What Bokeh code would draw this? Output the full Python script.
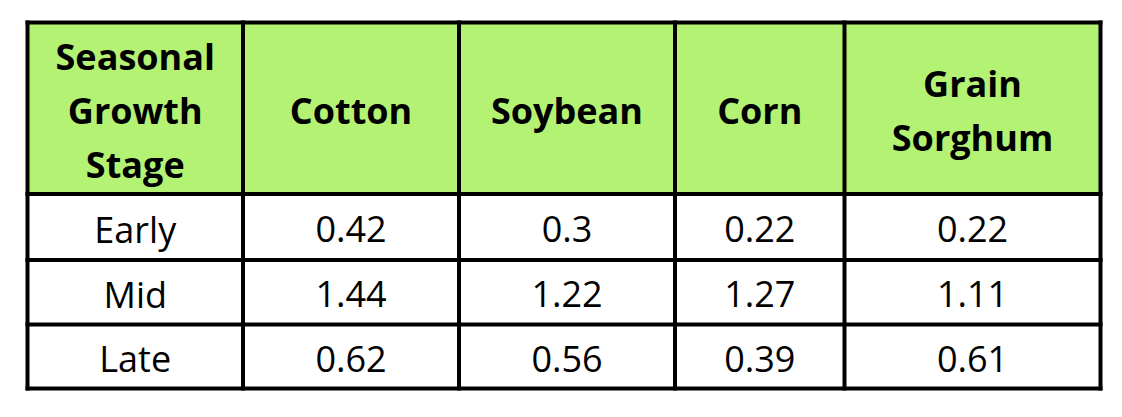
from bokeh.plotting import figure
from bokeh.models import Range1d
from bokeh.core.properties import value
from bokeh.embed import file_html
from bokeh.resources import INLINE

# ---- data ----
header = ["Seasonal\nGrowth\nStage", "Cotton", "Soybean", "Corn", "Grain\nSorghum"]
stages = ["Early", "Mid", "Late"]
cotton = ["0.42", "1.44", "0.62"]
soybean = ["0.3", "1.22", "0.56"]
corn = ["0.22", "1.27", "0.39"]
sorghum = ["0.22", "1.11", "0.61"]

# ---- layout (page pixels) ----
col_edges = [27, 242.5, 458.5, 674.5, 844, 1100]
row_edges = [22, 193.5, 259.5, 324, 388]
GREEN = "#B3F272"
W, H = 1106, 401

p = figure(width=W, height=H, output_backend="svg", toolbar_location=None,
           x_range=Range1d(0, W), y_range=Range1d(H, 0),
           min_border=0)
p.axis.visible = False
p.grid.visible = False
p.outline_line_color = None
p.background_fill_color = "white"

# header fill
p.quad(left=[col_edges[0]], right=[col_edges[-1]], top=[row_edges[0]], bottom=[row_edges[1]],
       fill_color=GREEN, line_color=None)

# grid lines
xs0, ys0, xs1, ys1 = [], [], [], []
for x in col_edges:
    xs0.append(x); xs1.append(x); ys0.append(row_edges[0] - 2); ys1.append(row_edges[-1] + 2)
for y in row_edges:
    xs0.append(col_edges[0] - 2); xs1.append(col_edges[-1] + 2); ys0.append(y); ys1.append(y)
p.segment(x0=xs0, y0=ys0, x1=xs1, y1=ys1, line_color="black", line_width=4)

centers_x = [(col_edges[i] + col_edges[i + 1]) / 2 for i in range(len(col_edges) - 1)]
centers_y = [(row_edges[i] + row_edges[i + 1]) / 2 for i in range(len(row_edges) - 1)]

# header text
LINE = 54
hx, hy, ht = [], [], []
for i, h in enumerate(header):
    lines = h.split("\n")
    n = len(lines)
    for j, ln in enumerate(lines):
        hx.append(centers_x[i])
        hy.append(centers_y[0] + 2 + (j - (n - 1) / 2) * LINE)
        ht.append(ln)
p.text(x=hx, y=hy, text=ht, text_align="center", text_baseline="middle",
       text_font=value("Open Sans"), text_font_style="bold", text_font_size="36px",
       text_color="black")

# body text
columns = [stages, cotton, soybean, corn, sorghum]
bx, by, bt = [], [], []
for i, col in enumerate(columns):
    for r, v in enumerate(col):
        bx.append(centers_x[i])
        by.append(centers_y[r + 1] + 2)
        bt.append(v)
p.text(x=bx, y=by, text=bt, text_align="center", text_baseline="middle",
       text_font=value("Open Sans"), text_font_size="36px", text_color="black")

open("out.html", "w").write(file_html(p, INLINE))
